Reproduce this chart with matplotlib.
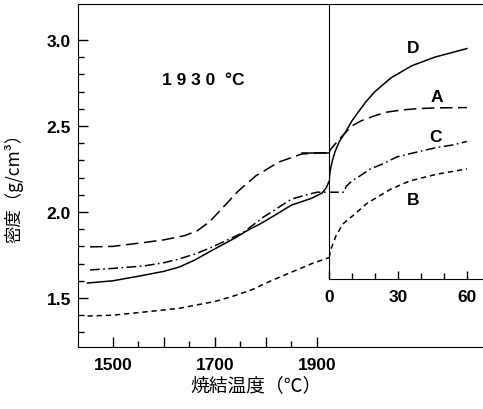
import matplotlib
matplotlib.use("Agg")
import matplotlib.pyplot as plt
from matplotlib.ticker import FixedLocator

plt.rcParams['lines.scale_dashes'] = False

# heating stage: density vs sintering temperature
temp_A = [1455, 1500, 1560, 1600, 1640, 1665, 1690, 1720, 1745, 1780, 1825, 1870, 1900, 1924]
dens_A = [1.797, 1.80, 1.822, 1.838, 1.862, 1.89, 1.945, 2.04, 2.12, 2.21, 2.29, 2.337, 2.343, 2.345]

temp_B = [1450, 1500, 1560, 1630, 1700, 1735, 1770, 1810, 1850, 1890, 1924]
dens_B = [1.395, 1.40, 1.418, 1.44, 1.48, 1.51, 1.545, 1.60, 1.65, 1.70, 1.735]

temp_C = [1455, 1500, 1560, 1600, 1630, 1660, 1690, 1755, 1795, 1850, 1880, 1900, 1924]
dens_C = [1.663, 1.672, 1.686, 1.705, 1.727, 1.755, 1.79, 1.88, 1.97, 2.075, 2.10, 2.115, 2.115]

temp_D = [1450, 1500, 1560, 1600, 1630, 1660, 1690, 1740, 1765, 1785, 1800, 1850, 1890, 1910,
          1918, 1924]
dens_D = [1.587, 1.60, 1.632, 1.655, 1.68, 1.72, 1.77, 1.85, 1.895, 1.925, 1.95, 2.04, 2.08, 2.11,
          2.14, 2.18]

# holding stage at 1930 C: density vs time (min)
time_A = [0, 0.5, 2, 4, 6, 9.9, 14, 20, 25, 31.6, 38, 46, 60]
hold_A = [2.345, 2.36, 2.385, 2.415, 2.445, 2.50, 2.53, 2.56, 2.58, 2.593, 2.60, 2.605, 2.607]

time_B = [0, 1, 3, 6, 10.5, 16.5, 26.5, 35, 47, 60]
hold_B = [1.735, 1.79, 1.86, 1.93, 1.98, 2.05, 2.13, 2.18, 2.22, 2.25]

time_C = [0, 6.5, 7.5, 10, 13.5, 18, 23.5, 29.5, 34, 42, 47, 54, 60]
hold_C = [2.115, 2.115, 2.15, 2.18, 2.21, 2.25, 2.28, 2.32, 2.335, 2.36, 2.375, 2.39, 2.41]

time_D = [0, 0.5, 1.3, 2.6, 4.5, 7, 10, 12.7, 16, 20, 27, 36, 46, 60]
hold_D = [2.18, 2.24, 2.29, 2.35, 2.41, 2.46, 2.53, 2.58, 2.64, 2.70, 2.78, 2.85, 2.90, 2.95]

styles = {
    'A': dict(linestyle=(0, (9, 4))),
    'B': dict(linestyle=(0, (3.8, 2.8))),
    'C': dict(linestyle=(0, (7, 2.5, 1.2, 2.5))),
    'D': dict(linestyle='-'),
}
cjk = ['Noto Sans CJK JP', 'DejaVu Sans']

W, H = 483, 410
fig = plt.figure(figsize=(W / 100, H / 100), dpi=100)
ylo, yhi = 1.215, 3.209

ax = fig.add_axes([78 / W, (H - 348) / H, (W - 78) / W, (348 - 5) / H])
ax.set_xlim(1431.4, 2225.5)
ax.set_ylim(ylo, yhi)
ax.spines['right'].set_visible(False)

for t, d, k in [(temp_A, dens_A, 'A'), (temp_B, dens_B, 'B'),
                (temp_C, dens_C, 'C'), (temp_D, dens_D, 'D')]:
    ax.plot(t, d, color='black', lw=1.1, **styles[k])
# flat step of curve A just before the hold
ax.plot([1870, 1924], [2.345, 2.345], color='black', lw=1.1)

ax.xaxis.set_major_locator(FixedLocator([1500, 1600, 1700, 1800, 1900]))
ax.xaxis.set_minor_locator(FixedLocator([1550, 1650, 1750, 1850]))
ax.set_xticklabels(['1500', '', '1700', '', '1900'])
ax.yaxis.set_major_locator(FixedLocator([1.5, 2.0, 2.5, 3.0]))
ax.yaxis.set_minor_locator(FixedLocator([1.3, 1.4, 1.6, 1.7, 1.8, 1.9, 2.1, 2.2, 2.3, 2.4,
                                         2.6, 2.7, 2.8, 2.9]))
ax.set_yticklabels(['1.5', '2.0', '2.5', '3.0'])
ax.tick_params(which='both', direction='in', top=False, right=False)
ax.tick_params(which='major', length=7, width=1)
ax.tick_params(which='minor', length=4, width=1)
ax.tick_params(axis='x', pad=7)
ax.tick_params(axis='y', pad=5)
for lab in ax.get_xticklabels() + ax.get_yticklabels():
    lab.set_fontfamily('Liberation Sans')
    lab.set_fontweight('bold')
    lab.set_fontsize(12.5)

ax.text(1597, 2.772, '1 9 3 0  °C', fontsize=12.5, fontweight='bold',
        family='Liberation Sans', va='center', ha='left')

# inset panel for the isothermal hold
ax2 = fig.add_axes([329 / W, (H - 280) / H, (W - 329) / W, (280 - 5) / H])
ax2.patch.set_alpha(0)
ax2.set_xlim(0, 67)
ax2.set_ylim(1.6105, yhi)
ax2.spines['top'].set_visible(False)
ax2.spines['right'].set_visible(False)

for t, d, k in [(time_A, hold_A, 'A'), (time_B, hold_B, 'B'),
                (time_C, hold_C, 'C'), (time_D, hold_D, 'D')]:
    ax2.plot(t, d, color='black', lw=1.1, **styles[k])

ax2.set_yticks([])
ax2.xaxis.set_major_locator(FixedLocator([0, 30, 60]))
ax2.xaxis.set_minor_locator(FixedLocator([10, 20, 40, 50]))
ax2.tick_params(which='both', direction='in', top=False)
ax2.tick_params(which='major', length=6, width=1, pad=7)
ax2.tick_params(which='minor', length=4, width=1)
for lab in ax2.get_xticklabels():
    lab.set_fontfamily('Liberation Sans')
    lab.set_fontweight('bold')
    lab.set_fontsize(12.5)

for name, tx, ty in [('D', 36.5, 2.955), ('A', 47, 2.67), ('C', 46.5, 2.44), ('B', 36.5, 2.075)]:
    ax2.text(tx, ty, name, fontsize=12.5, fontweight='bold', family='Liberation Sans',
             ha='center', va='center')

fig.text(14 / W, 1 - 184 / H, '密度（g/cm³）', rotation=90, fontsize=12.5,
         family=cjk, ha='center', va='center')
fig.text(256 / W, 1 - 386 / H, '焼結温度（℃）', fontsize=13.5,
         family=cjk, ha='center', va='center')

fig.savefig('out.png', dpi=100)
